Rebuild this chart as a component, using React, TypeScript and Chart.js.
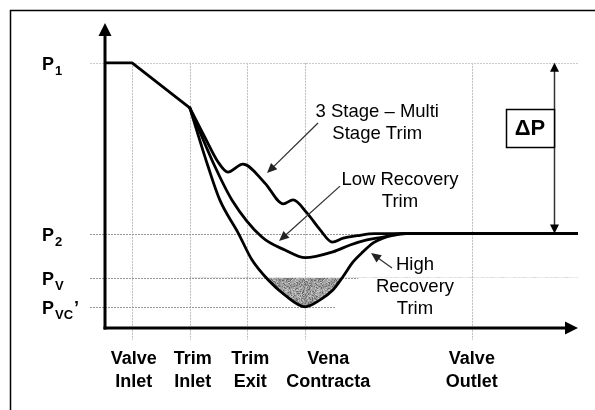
import React, { useEffect, useRef } from 'react';
import { Chart, registerables } from 'chart.js';

Chart.register(...registerables);

// ---------- data ----------
const categoryLabels: string[][] = [
  ['Valve', 'Inlet'],
  ['Trim', 'Inlet'],
  ['Trim', 'Exit'],
  ['Vena', 'Contracta'],
  ['Valve', 'Outlet'],
];
const categoryPositions = [1, 2, 3, 4, 6.89];
const categoryLabelPositions = [1.03, 2.05, 3.05, 4.4, 6.89];

const pressureSubscripts = ['1', '2', 'V', 'VC'];
const pressurePrimes = ['', '', '', '\u2019'];
const pressureValues = [100, 35.6, 19, 8];

const commonX = [0.53, 1, 2];
const commonY = [100, 100, 83];

const multiStageX = [2, 2.26, 2.49, 2.66, 2.92, 3.3, 3.62, 3.79, 4.03, 4.26, 4.47, 4.66, 4.9, 5.2, 8.73];
const multiStageY = [83, 72, 62.6, 58.8, 61.8, 54.7, 46.8, 48.3, 43.4, 37, 32.4, 33.9, 34.8, 35.6, 35.6];

const lowRecoveryX = [2, 2.44, 2.73, 3.25, 3.65, 4.0, 4.48, 4.78, 5.07, 5.35, 5.64, 8.73];
const lowRecoveryY = [83, 60.7, 48.3, 34.3, 29.4, 26.5, 28.7, 31.3, 33.2, 34.3, 35.6, 35.6];

const highRecoveryX = [2, 2.32, 2.52, 2.84, 3.08, 3.36, 3.65, 4.0, 4.26, 4.48, 4.66, 4.83, 5.0, 5.18, 5.35, 5.52, 5.75, 8.73];
const highRecoveryY = [83, 60.7, 48.3, 35.8, 25.6, 18.1, 12.4, 8, 10.6, 14.3, 19.5, 24.9, 28.7, 32.1, 33.9, 34.9, 35.6, 35.6];

const annotationTexts: string[][] = [
  ['3 Stage \u2013 Multi', 'Stage Trim'],
  ['Low Recovery', 'Trim'],
  ['High', 'Recovery', 'Trim'],
];
const deltaLabel = '\u0394P';

// ---------- layout (positions in data units) ----------
const X_MIN = 0.53;
const X_MAX = 8.73;
const Y_MIN = 0;
const Y_MAX = 115;
const refLineEnds = [8.73, 8.73, 4.92, 4.52];
const annotationAnchors = [
  { x: 5.25, y: 81.4 },
  { x: 5.644, y: 55.8 },
  { x: 5.904, y: 23.8 },
];
const arrowSegments = [
  { x1: 4.223, y1: 77.3, x2: 3.339, y2: 58.4 },
  { x1: 4.604, y1: 53.5, x2: 3.547, y2: 32.8 },
  { x1: 5.506, y1: 22.6, x2: 5.142, y2: 28.3 },
];
const deltaX = 8.314;
const deltaBox = { x1: 7.482, x2: 8.314, y1: 82.6, y2: 68.3 };

const FONT = '"Liberation Sans", Arial, Helvetica, sans-serif';

function toPoints(xs: number[], ys: number[]) {
  return xs.map((v, i) => ({ x: v, y: ys[i] }));
}

function texHash(a: number, b: number) {
  let h = Math.imul(a, 73856093) ^ Math.imul(b, 19349663);
  h = Math.imul(h ^ (h >>> 13), 1274126177);
  h = h ^ (h >>> 16);
  return (h >>> 0) % 100;
}

function makeStipple(): CanvasPattern | string {
  const n = 32;
  const c = document.createElement('canvas');
  c.width = n;
  c.height = n;
  const g = c.getContext('2d');
  if (!g) return '#a0a0a0';
  g.fillStyle = '#a2a2a2';
  g.fillRect(0, 0, n, n);
  for (let py = 0; py < n; py++) {
    for (let px = 0; px < n; px++) {
      const k = texHash(px + 1, py + 7);
      if (k < 18) g.fillStyle = '#6a6a6a';
      else if (k < 32) g.fillStyle = '#858585';
      else if (k < 48) g.fillStyle = '#c6c6c6';
      else continue;
      g.fillRect(px, py, 1, 1);
    }
  }
  const p = g.createPattern(c, 'repeat');
  return p || '#a0a0a0';
}

function arrowHead(ctx: CanvasRenderingContext2D, x1: number, y1: number, x2: number, y2: number, len: number, half: number) {
  const a = Math.atan2(y2 - y1, x2 - x1);
  const bx = x2 - len * Math.cos(a);
  const by = y2 - len * Math.sin(a);
  ctx.beginPath();
  ctx.moveTo(x2, y2);
  ctx.lineTo(bx + half * Math.sin(a), by - half * Math.cos(a));
  ctx.lineTo(bx - half * Math.sin(a), by + half * Math.cos(a));
  ctx.closePath();
  ctx.fill();
}

const diagramPlugin = {
  id: 'diagram',
  beforeDatasetsDraw(chart: any) {
    const { ctx, chartArea } = chart;
    const x = chart.scales.x;
    const y = chart.scales.y;
    ctx.save();
    // outer frame (top and left)
    ctx.strokeStyle = '#000';
    ctx.lineWidth = 1.5;
    ctx.beginPath();
    ctx.moveTo(10.5, 410);
    ctx.lineTo(10.5, 10.5);
    ctx.lineTo(595, 10.5);
    ctx.stroke();

    // vertical reference lines
    ctx.lineWidth = 1;
    ctx.setLineDash([2, 1]);
    ctx.strokeStyle = '#bdbdbd';
    const topY = y.getPixelForValue(pressureValues[0]);
    categoryPositions.forEach((v) => {
      const px = Math.round(x.getPixelForValue(v)) + 0.5;
      ctx.beginPath();
      ctx.moveTo(px, topY);
      ctx.lineTo(px, chartArea.bottom + 12);
      ctx.stroke();
    });

    // horizontal reference lines
    pressureValues.forEach((v, i) => {
      const py = Math.round(y.getPixelForValue(v)) + 0.5;
      ctx.strokeStyle = i === 0 ? '#cbcbcb' : '#969696';
      ctx.beginPath();
      ctx.moveTo(chartArea.left - 15, py);
      ctx.lineTo(x.getPixelForValue(refLineEnds[i]), py);
      ctx.stroke();
    });
    ctx.setLineDash([]);
    ctx.restore();
  },
  afterDatasetsDraw(chart: any) {
    const { ctx, chartArea } = chart;
    const x = chart.scales.x;
    const y = chart.scales.y;
    ctx.save();

    // axes
    ctx.strokeStyle = '#000';
    ctx.fillStyle = '#000';
    ctx.lineWidth = 3;
    ctx.lineCap = 'butt';
    const ax = chartArea.left;
    const ay = chartArea.bottom;
    ctx.beginPath();
    ctx.moveTo(ax, ay + 1.5);
    ctx.lineTo(ax, chartArea.top + 12);
    ctx.stroke();
    ctx.beginPath();
    ctx.moveTo(ax - 1.5, ay);
    ctx.lineTo(chartArea.right - 12, ay);
    ctx.stroke();
    arrowHead(ctx, ax, ay, ax, chartArea.top, 13, 6.5);
    arrowHead(ctx, ax, ay, chartArea.right, ay, 13, 6.5);

    // category labels
    ctx.font = `bold 18px ${FONT}`;
    ctx.textAlign = 'center';
    ctx.textBaseline = 'middle';
    categoryLabels.forEach((lines, i) => {
      const px = x.getPixelForValue(categoryLabelPositions[i]);
      lines.forEach((t, j) => ctx.fillText(t, px, ay + 31 + j * 23));
    });

    // pressure labels
    ctx.textAlign = 'left';
    ctx.textBaseline = 'alphabetic';
    pressureValues.forEach((v, i) => {
      const base = y.getPixelForValue(v) + 7;
      ctx.font = `bold 18px ${FONT}`;
      ctx.fillText('P', 42, base);
      const pw = ctx.measureText('P').width;
      ctx.font = `bold 13px ${FONT}`;
      ctx.fillText(pressureSubscripts[i], 42 + pw + 1, base + 5);
      const sw = ctx.measureText(pressureSubscripts[i]).width;
      if (pressurePrimes[i]) {
        ctx.font = `bold 18px ${FONT}`;
        ctx.fillText(pressurePrimes[i], 42 + pw + 1 + sw + 1, base);
      }
    });

    // annotation texts
    ctx.font = `18.5px ${FONT}`;
    ctx.textAlign = 'center';
    ctx.textBaseline = 'middle';
    annotationTexts.forEach((lines, i) => {
      const px = x.getPixelForValue(annotationAnchors[i].x);
      const py = y.getPixelForValue(annotationAnchors[i].y);
      lines.forEach((t, j) => ctx.fillText(t, px, py + j * 22));
    });

    // annotation arrows
    ctx.strokeStyle = '#333';
    ctx.fillStyle = '#222';
    ctx.lineWidth = 1.3;
    arrowSegments.forEach((s) => {
      const x1 = x.getPixelForValue(s.x1);
      const y1 = y.getPixelForValue(s.y1);
      const x2 = x.getPixelForValue(s.x2);
      const y2 = y.getPixelForValue(s.y2);
      const a = Math.atan2(y2 - y1, x2 - x1);
      ctx.beginPath();
      ctx.moveTo(x1, y1);
      ctx.lineTo(x2 - 6 * Math.cos(a), y2 - 6 * Math.sin(a));
      ctx.stroke();
      arrowHead(ctx, x1, y1, x2, y2, 10, 4.5);
    });

    // delta P arrow
    const dx = Math.round(x.getPixelForValue(deltaX)) + 0.5;
    const dTop = y.getPixelForValue(pressureValues[0]);
    const dBot = y.getPixelForValue(pressureValues[1]);
    ctx.strokeStyle = '#333';
    ctx.lineWidth = 1.5;
    ctx.beginPath();
    ctx.moveTo(dx, dTop + 6);
    ctx.lineTo(dx, dBot - 6);
    ctx.stroke();
    ctx.fillStyle = '#000';
    arrowHead(ctx, dx, dBot, dx, dTop, 9, 4.5);
    arrowHead(ctx, dx, dTop, dx, dBot, 9, 4.5);

    // delta P box
    const bx1 = x.getPixelForValue(deltaBox.x1);
    const bx2 = x.getPixelForValue(deltaBox.x2);
    const by1 = y.getPixelForValue(deltaBox.y1);
    const by2 = y.getPixelForValue(deltaBox.y2);
    ctx.fillStyle = '#fff';
    ctx.fillRect(bx1, by1, bx2 - bx1, by2 - by1);
    ctx.strokeStyle = '#000';
    ctx.lineWidth = 1.5;
    ctx.strokeRect(Math.round(bx1) + 0.5, Math.round(by1) + 0.5, Math.round(bx2 - bx1), Math.round(by2 - by1));
    ctx.fillStyle = '#000';
    ctx.font = `bold 22px ${FONT}`;
    ctx.textAlign = 'center';
    ctx.textBaseline = 'middle';
    ctx.fillText(deltaLabel, (bx1 + bx2) / 2, (by1 + by2) / 2 + 1);

    ctx.restore();
  },
};

export default function App() {
  const canvasRef = useRef<HTMLCanvasElement | null>(null);

  useEffect(() => {
    const canvas = canvasRef.current;
    if (!canvas) return;
    const stipple = makeStipple();
    const curve = (xs: number[], ys: number[], extra: any = {}) => ({
      data: toPoints(xs, ys),
      borderColor: '#000',
      borderWidth: 2.8,
      pointRadius: 0,
      pointHoverRadius: 0,
      cubicInterpolationMode: 'monotone',
      borderJoinStyle: 'round',
      borderCapStyle: 'round',
      fill: false,
      ...extra,
    });
    const chart = new Chart(canvas, {
      type: 'line',
      data: {
        datasets: [
          curve(highRecoveryX, highRecoveryY, {
            label: 'High Recovery Trim',
            fill: { target: { value: pressureValues[2] }, above: 'rgba(0,0,0,0)', below: stipple },
            backgroundColor: stipple,
          }),
          curve(lowRecoveryX, lowRecoveryY, { label: 'Low Recovery Trim' }),
          curve(multiStageX, multiStageY, { label: '3 Stage \u2013 Multi Stage Trim' }),
          curve(commonX, commonY, { label: 'Common', cubicInterpolationMode: 'default', tension: 0 }),
        ],
      },
      options: {
        responsive: false,
        animation: false,
        events: [],
        layout: { padding: { left: 105, right: 17, top: 23, bottom: 82 } },
        scales: {
          x: { type: 'linear', min: X_MIN, max: X_MAX, display: false },
          y: { type: 'linear', min: Y_MIN, max: Y_MAX, display: false },
        },
        plugins: {
          legend: { display: false },
          tooltip: { enabled: false },
        },
      } as any,
      plugins: [diagramPlugin],
    } as any);
    return () => chart.destroy();
  }, []);

  return (
    <div style={{ position: 'absolute', left: 0, top: 0, width: 595, height: 410, background: '#fff' }}>
      <canvas ref={canvasRef} width={595} height={410} style={{ width: 595, height: 410, display: 'block' }} />
    </div>
  );
}
